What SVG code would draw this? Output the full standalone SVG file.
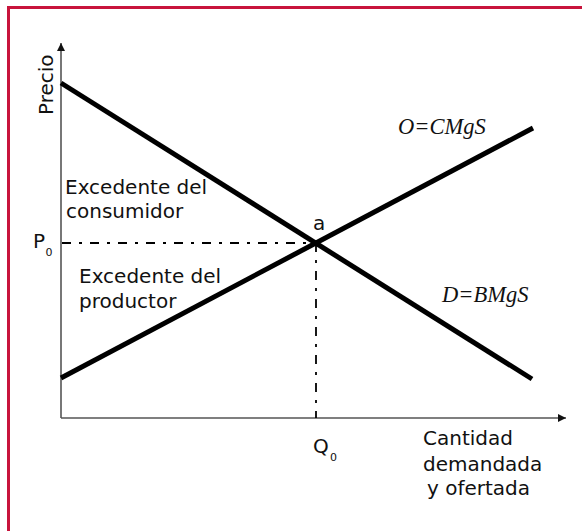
<svg xmlns="http://www.w3.org/2000/svg" width="582" height="531" viewBox="0 0 582 531">
<defs>
<marker id="arr" viewBox="0 0 10 10" refX="10" refY="5" markerWidth="8" markerHeight="8" markerUnits="userSpaceOnUse" orient="auto">
<path d="M0,0 L10,5 L0,10 z" fill="#111"/>
</marker>
<style>
.frame{fill:none;stroke:#c8143c;stroke-width:3}
.axis{stroke:#555;stroke-width:1.6;fill:none}
.curve{stroke:#000;stroke-width:5;fill:none}
.dash{stroke:#000;stroke-width:1.8;stroke-dasharray:9 8 3 8;fill:none}
.t{font-family:"DejaVu Sans",sans-serif;font-size:20px;fill:#111}
.sub{font-family:"DejaVu Sans",sans-serif;font-size:11px;fill:#111}
.it{font-family:"Liberation Serif",serif;font-style:italic;font-size:22.5px;fill:#111}
</style>
</defs>
<rect class="frame" x="8.5" y="7.5" width="600" height="560"/>
<g id="connectors">
<line class="axis" x1="61" y1="418" x2="61" y2="43" marker-end="url(#arr)"/>
<line class="axis" x1="61" y1="418" x2="566" y2="418" marker-end="url(#arr)"/>
<line class="dash" x1="62" y1="243" x2="316" y2="243"/>
<line class="dash" x1="316" y1="243" x2="316" y2="418"/>
</g>
<g id="demand">
<line class="curve" x1="61" y1="83" x2="532" y2="379"/>
<text class="it" x="442" y="302">D=BMgS</text>
</g>
<g id="supply">
<line class="curve" x1="61" y1="378" x2="533" y2="128"/>
<text class="it" x="398" y="134">O=CMgS</text>
</g>
<g id="yaxis-label">
<text class="t" transform="translate(53,115) rotate(-90)">Precio</text>
</g>
<g id="consumer-surplus">
<text class="t" x="65" y="194">Excedente del</text>
<text class="t" x="66" y="218">consumidor</text>
</g>
<g id="producer-surplus">
<text class="t" x="79" y="283">Excedente del</text>
<text class="t" x="79" y="308">productor</text>
</g>
<g id="equilibrium">
<text class="t" x="313" y="230">a</text>
</g>
<g id="p0">
<text class="t" x="33" y="248">P</text>
<text class="sub" x="45.5" y="256">0</text>
</g>
<g id="q0">
<text class="t" x="313" y="453">Q</text>
<text class="sub" x="330" y="461">0</text>
</g>
<g id="xaxis-label">
<text class="t" x="423" y="445">Cantidad</text>
<text class="t" x="423" y="471">demandada</text>
<text class="t" x="427" y="495">y ofertada</text>
</g>
</svg>
